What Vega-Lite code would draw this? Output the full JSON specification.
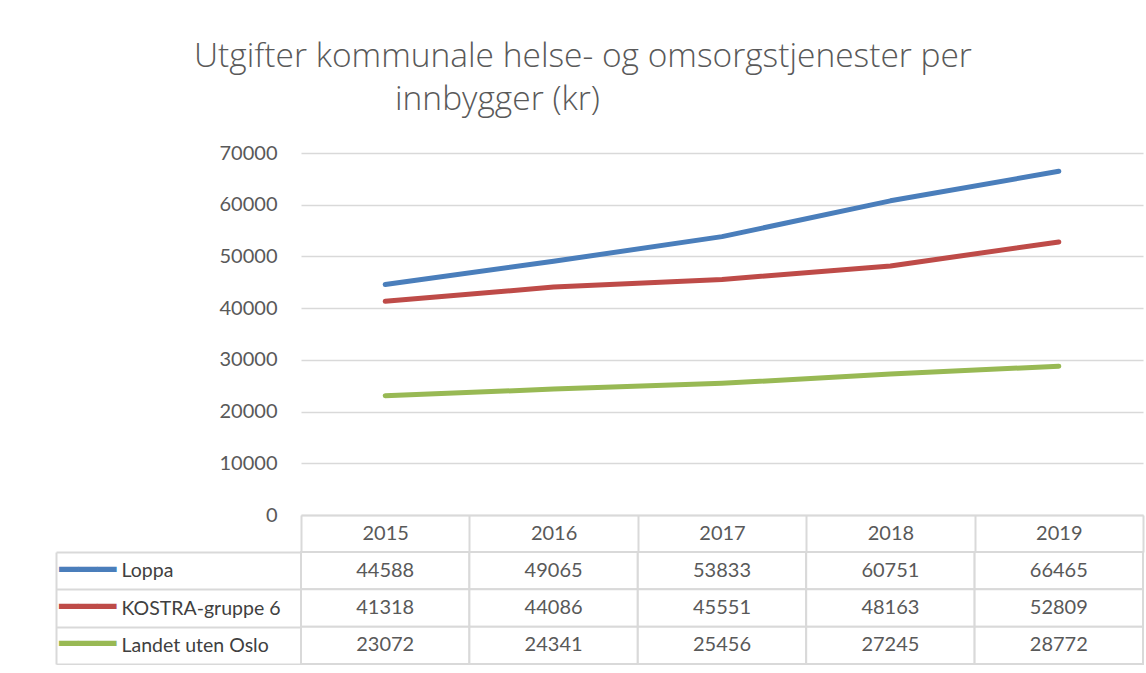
{
  "$schema": "https://vega.github.io/schema/vega-lite/v6.json",
  "padding": {"left": 55, "top": 40, "right": 4, "bottom": 0},
  "background": "white",
  "config": {"view": {"stroke": null}, "font": "Lato"},
  "bounds": "flush",
  "spacing": 37,
  "title": {"text": "Utgifter kommunale helse- og omsorgstjenester per", "anchor": "start", "dx": 139, "fontSize": 33.5, "fontWeight": 300, "color": "#595959", "font": "Open Sans", "offset": 8},
  "data": {"values": [
    {"series": "Loppa", "year": "2015", "value": 44588},
    {"series": "Loppa", "year": "2016", "value": 49065},
    {"series": "Loppa", "year": "2017", "value": 53833},
    {"series": "Loppa", "year": "2018", "value": 60751},
    {"series": "Loppa", "year": "2019", "value": 66465},
    {"series": "KOSTRA-gruppe 6", "year": "2015", "value": 41318},
    {"series": "KOSTRA-gruppe 6", "year": "2016", "value": 44086},
    {"series": "KOSTRA-gruppe 6", "year": "2017", "value": 45551},
    {"series": "KOSTRA-gruppe 6", "year": "2018", "value": 48163},
    {"series": "KOSTRA-gruppe 6", "year": "2019", "value": 52809},
    {"series": "Landet uten Oslo", "year": "2015", "value": 23072},
    {"series": "Landet uten Oslo", "year": "2016", "value": 24341},
    {"series": "Landet uten Oslo", "year": "2017", "value": 25456},
    {"series": "Landet uten Oslo", "year": "2018", "value": 27245},
    {"series": "Landet uten Oslo", "year": "2019", "value": 28772}
  ]},
  "vconcat": [
    {
      "width": 842,
      "height": 362,
      "title": {"text": "innbygger (kr)", "anchor": "start", "dx": 176, "fontSize": 33.5, "fontWeight": 300, "color": "#595959", "font": "Open Sans", "offset": 26},
      "mark": {"type": "line", "strokeWidth": 5, "strokeCap": "round", "strokeJoin": "round"},
      "encoding": {
        "x": {"field": "year", "type": "ordinal", "scale": {"type": "band", "paddingInner": 0, "paddingOuter": 0},
          "axis": {"title": null, "labelAngle": 0, "tickBand": "extent", "tickSize": 37, "tickWidth": 2, "tickColor": "#d9d9d9", "domainColor": "#d9d9d9", "domainWidth": 2, "labelPadding": -19, "labelBaseline": "middle", "labelFontSize": 20, "labelColor": "#595959", "grid": false}},
        "y": {"field": "value", "type": "quantitative", "scale": {"domain": [0, 70000]},
          "axis": {"title": null, "values": [0, 10000, 20000, 30000, 40000, 50000, 60000, 70000], "format": "d", "domain": false, "ticks": false, "labelPadding": 24, "gridColor": "#d9d9d9", "gridWidth": 1.5, "labelFontSize": 20, "labelColor": "#595959"}},
        "color": {"field": "series", "type": "nominal", "scale": {"domain": ["Loppa", "KOSTRA-gruppe 6", "Landet uten Oslo"], "range": ["#4a7ebb", "#be4b48", "#98b954"]}, "legend": null}
      }
    },
    {
      "width": 842,
      "height": 112,
      "layer": [
        {
          "mark": {"type": "rect", "fill": "white", "stroke": "#d9d9d9", "strokeWidth": 2},
          "encoding": {
            "x": {"field": "year", "type": "ordinal", "scale": {"type": "band", "paddingInner": 0, "paddingOuter": 0}, "axis": null},
            "y": {"field": "series", "type": "nominal", "sort": ["Loppa", "KOSTRA-gruppe 6", "Landet uten Oslo"], "scale": {"type": "band", "paddingInner": 0, "paddingOuter": 0},
              "axis": {"title": null, "orient": "left", "tickBand": "extent", "tickSize": 245, "tickWidth": 2, "tickColor": "#d9d9d9", "domain": false, "labelAlign": "left", "labelPadding": -65, "labelFontSize": 19.5, "labelColor": "#404040", "labelLimit": 0}}
          }
        },
        {
          "mark": {"type": "text", "fontSize": 20, "color": "#595959"},
          "encoding": {
            "x": {"field": "year", "type": "ordinal", "axis": null},
            "y": {"field": "series", "type": "nominal", "sort": ["Loppa", "KOSTRA-gruppe 6", "Landet uten Oslo"],
              "axis": {"title": null, "orient": "left", "offset": 245, "ticks": false, "domain": true, "domainColor": "#d9d9d9", "domainWidth": 2, "labelExpr": "'━━━'", "labelFont": "DejaVu Sans", "labelFontSize": 31.5, "labelAlign": "left", "labelPadding": -3,
                "labelColor": {"condition": [{"test": "datum.value === 'Loppa'", "value": "#4a7ebb"}, {"test": "datum.value === 'KOSTRA-gruppe 6'", "value": "#be4b48"}], "value": "#98b954"}}},
            "text": {"field": "value", "type": "quantitative", "format": "d"}
          }
        }
      ],
      "resolve": {"axis": {"y": "independent"}}
    }
  ]
}
